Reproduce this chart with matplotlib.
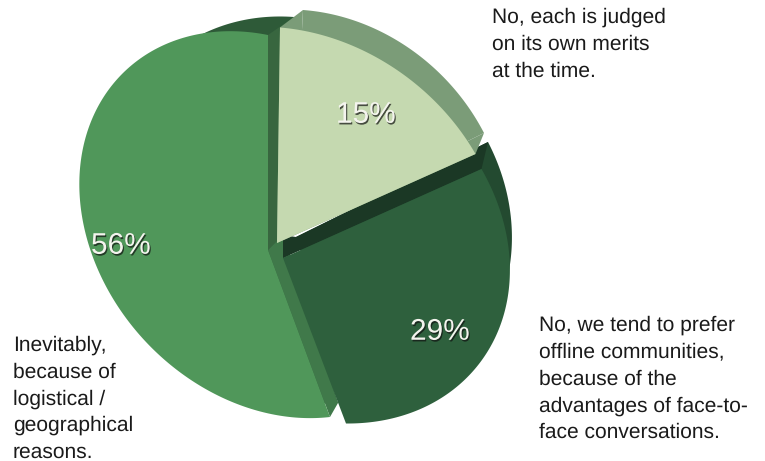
import numpy as np
import matplotlib
matplotlib.use("Agg")
import matplotlib.pyplot as plt
import matplotlib.patheffects as pe

plt.rcParams['font.family'] = ['Liberation Sans', 'DejaVu Sans']
plt.rcParams['text.hinting'] = 'no_hinting'
plt.rcParams['text.hinting_factor'] = 1

# slice order runs anticlockwise from 12 o'clock
categories = ["Inevitably", "Prefer offline", "Own merits"]
shares = [56, 29, 15]
pct_labels = ["56%", "29%", "15%"]

labels_left = ["Inevitably,", "because of", "logistical /", "geographical", "reasons."]
labels_top = ["No, each is judged", "on its own merits", "at the time."]
labels_right = ["No, we tend to prefer", "offline communities,", "because of the",
                "advantages of face-to-", "face conversations."]


# projective map from the unit circle to the page, set by 4 point pairs
def fit_map(src, dst):
    a = []
    b = []
    for (x, y), (u, v) in zip(src, dst):
        a.append([x, y, 1, 0, 0, 0, -u*x, -u*y])
        a.append([0, 0, 0, x, y, 1, -v*x, -v*y])
        b += [u, v]
    h = np.linalg.solve(np.array(a, float), np.array(b, float))
    return np.append(h, 1).reshape(3, 3)


def on_rim(h, t, origin):
    x, y = np.cos(t), np.sin(t)
    w = h[2, 0]*x + h[2, 1]*y + h[2, 2]
    return (origin[0] + (h[0, 0]*x + h[0, 1]*y + h[0, 2])/w,
            origin[1] + (h[1, 0]*x + h[1, 1]*y + h[1, 2])/w)


def at_centre(h, origin):
    return origin[0] + h[0, 2]/h[2, 2], origin[1] + h[1, 2]/h[2, 2]


def outline(h, span, origin):
    x, y = on_rim(h, np.linspace(span[0], span[1], 200), origin)
    cx, cy = at_centre(h, origin)
    return np.r_[cx, x], np.r_[cy, y]


# side wall along one straight edge of a slice, between top and back planes
def edge_wall(ax, t, top, origin, back_origin, colour, extra=None):
    pts = [at_centre(top, origin), on_rim(top, t, origin),
           on_rim(back_map, t, back_origin), at_centre(back_map, back_origin)]
    if extra is not None:
        pts.append(extra)
    ax.fill(*zip(*pts), color=colour, lw=0)


# angles for each slice come from the shares
edges = np.radians(90 + np.cumsum([0] + shares)*3.6)
spans = list(zip(edges[:-1], edges[1:]))

# top plane and the plane behind it, relative to a slice's apex
anchor_angles = [edges[0], edges[2], edges[1]]
unit = [(0, 0)] + [(np.cos(t), np.sin(t)) for t in anchor_angles]
face_map = fit_map(unit, [(0, 0), (3, -215.5), (198.5, -89), (63, 165.5)])
back_map = fit_map(unit, [(15, -15), (26, -233), (207, -110), (70, 153)])
# the big slice bulges further to the left than the shared plane gives
green_map = fit_map(unit, [(0, 0), (0, -215), (168, -84), (62, 167)])

# slices are pulled apart by moving their apex
green_apex = (268, 250)
dark_apex = (283, 258)
dark_back = (281, 252)
light_apex = (277, 243)

fig = plt.figure(figsize=(7.65, 4.61), dpi=100)
ax = fig.add_axes([0, 0, 1, 1])
ax.set_xlim(0, 765)
ax.set_ylim(461, 0)
ax.axis('off')

# green slice with its side walls
ax.fill(*outline(back_map, spans[0], green_apex), color='#2e5a38', lw=0)
edge_wall(ax, spans[0][0], green_map, green_apex, green_apex, '#38663f')
edge_wall(ax, spans[0][1], green_map, green_apex, green_apex, '#40794a')
ax.fill(*outline(green_map, spans[0], green_apex), color='#50975a', lw=0)

# dark slice
ax.fill(*outline(back_map, spans[1], dark_back), color='#234a30', lw=0)
edge_wall(ax, spans[1][1], face_map, dark_apex, dark_back, '#1b3825',
          extra=at_centre(back_map, green_apex))
ax.fill(*outline(face_map, spans[1], dark_apex), color='#2e603d', lw=0)

# light slice
ax.fill(*outline(back_map, spans[2], light_apex), color='#7b9c78', lw=0)
edge_wall(ax, spans[2][0], face_map, light_apex, light_apex, '#7b9c78')
edge_wall(ax, spans[2][1], face_map, light_apex, light_apex, '#7b9c78')
ax.fill(*outline(face_map, spans[2], light_apex), color='#c5d9b0', lw=0)

shadow = [pe.withSimplePatchShadow(offset=(0.8, -1.2), shadow_rgbFace='#111111', alpha=0.7)]
pct_pos = [(121, 246), (440, 332), (366, 115)]
for s, (x, y) in zip(pct_labels, pct_pos):
    ax.text(x, y, s, color='#f4f4ee', fontsize=21.5, ha='center', va='center', path_effects=shadow)

for lines, x, y0, step in [(labels_left, 13, 351, 26.6), (labels_top, 492, 23, 26.8), (labels_right, 539, 331, 26.8)]:
    for i, line in enumerate(lines):
        ax.text(x, y0 + i*step, line, color='#1a1a1a', fontsize=15, ha='left', va='baseline')

plt.savefig("out.png", dpi=100)
